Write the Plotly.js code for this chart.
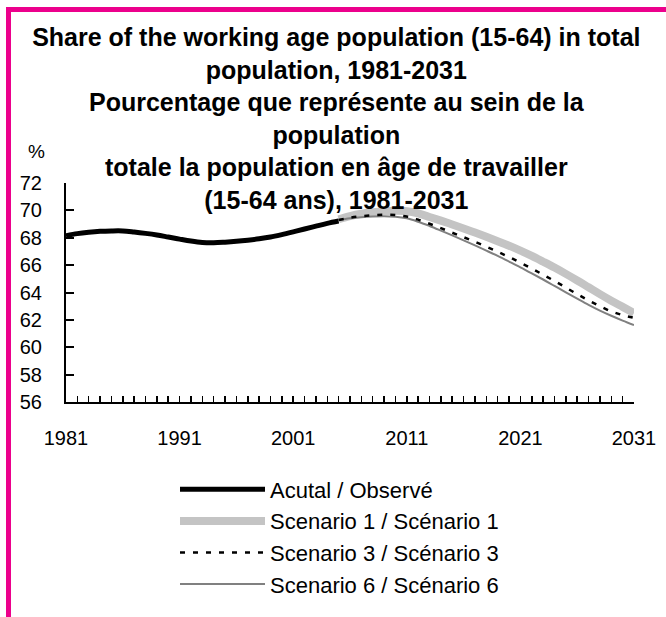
<!DOCTYPE html>
<html>
<head>
<meta charset="utf-8">
<script src="https://cdn.plot.ly/plotly-3.0.1.min.js"></script>
<style>html,body{margin:0;padding:0;background:#fff;}#chart{width:666px;height:617px;}</style>
</head>
<body>
<div id="chart"></div>
<script>
const actualYears = [1981,1982,1983,1984,1985,1986,1987,1988,1989,1990,1991,1992,1993,1994,1995,1996,1997,1998,1999,2000,2001,2002,2003,2004,2005];
const actualValues = [68.15,68.3,68.4,68.47,68.5,68.5,68.42,68.32,68.2,68.05,67.9,67.76,67.66,67.64,67.68,67.74,67.82,67.92,68.05,68.23,68.43,68.64,68.85,69.05,69.22];
const scenarioYears = [2005,2006,2007,2008,2009,2010,2011,2012,2013,2014,2015,2016,2017,2018,2019,2020,2021,2022,2023,2024,2025,2026,2027,2028,2029,2030,2031];
const scenario1 = [69.35,69.58,69.75,69.86,69.94,69.97,69.94,69.78,69.52,69.25,68.97,68.68,68.38,68.07,67.75,67.42,67.06,66.67,66.25,65.82,65.36,64.88,64.38,63.88,63.4,62.95,62.5];
const scenario3 = [69.3,69.46,69.57,69.64,69.68,69.66,69.55,69.32,69.02,68.7,68.37,68.04,67.7,67.35,66.98,66.59,66.18,65.75,65.3,64.84,64.36,63.88,63.42,63.0,62.62,62.35,62.15];
const scenario6 = [69.3,69.42,69.5,69.55,69.57,69.54,69.42,69.17,68.86,68.52,68.17,67.81,67.44,67.06,66.67,66.26,65.84,65.4,64.95,64.48,64.01,63.55,63.1,62.68,62.3,61.95,61.62];
const seriesNames = ["Acutal / Observé","Scenario 1 / Scénario 1","Scenario 3 / Scénario 3","Scenario 6 / Scénario 6"];
const xTickVals = [1981,1991,2001,2011,2021,2031];
const yTickVals = [56,58,60,62,64,66,68,70,72];

const W = 666, H = 617;
const M = {l:66, r:32, t:183, b:210};
const pw = W - M.l - M.r, ph = H - M.t - M.b;
const px = v => (v - M.l) / pw;
const py = v => (H - M.b - v) / ph;

const traces = [
  {x: scenarioYears, y: scenario1, name: seriesNames[1], legendrank: 2, legendgroup: 'b',
   mode: 'lines', line: {color: '#c4c4c4', width: 8, shape: 'spline'}},
  {x: scenarioYears, y: scenario6, name: seriesNames[3], legendrank: 4, legendgroup: 'd',
   mode: 'lines', line: {color: '#808080', width: 2, shape: 'spline'}},
  {x: scenarioYears, y: scenario3, name: seriesNames[2], legendrank: 3, legendgroup: 'c',
   mode: 'lines', line: {color: '#000000', width: 2.5, dash: '5px,8px', shape: 'spline'}},
  {x: actualYears, y: actualValues, name: seriesNames[0], legendrank: 1, legendgroup: 'a',
   yaxis: 'y2',
   mode: 'lines', line: {color: '#000000', width: 5, shape: 'spline'}}
];

const font = 'Liberation Sans, Arial, Helvetica, sans-serif';

const layout = {
  width: W, height: H,
  margin: M,
  paper_bgcolor: '#ffffff', plot_bgcolor: '#ffffff',
  font: {family: font, color: '#000', size: 20},
  title: {
    text: 'Share of the working age population (15-64) in total<br>population, 1981-2031<br>Pourcentage que représente au sein de la<br>population<br>totale la population en âge de travailler<br>(15-64 ans), 1981-2031',
    font: {family: font, size: 25, color: '#000', weight: 'bold'},
    x: 0.505, xref: 'container', xanchor: 'center',
    y: 1 - 46 / H, yref: 'container', yanchor: 'top'
  },
  xaxis: {
    range: [1981, 2031], tickvals: xTickVals, ticktext: xTickVals.map(String),
    showgrid: false, zeroline: false,
    showline: true, linecolor: '#000', linewidth: 2,
    ticks: 'inside', ticklen: 6, tickwidth: 1.5, tickcolor: '#000',
    minor: {dtick: 1, tick0: 1981, ticks: 'inside', ticklen: 6, tickwidth: 1.5, tickcolor: '#000', showgrid: false},
    tickfont: {size: 20}, ticklabelstandoff: 17
  },
  yaxis: {
    range: [56, 72], tickvals: yTickVals, ticktext: yTickVals.map(String),
    showgrid: false, zeroline: false,
    showline: true, linecolor: '#000', linewidth: 2,
    ticks: 'outside', ticklen: 18, tickwidth: 1, tickcolor: 'rgba(0,0,0,0)',
    tickfont: {size: 20}
  },
  yaxis2: {
    overlaying: 'y', side: 'left', anchor: 'x',
    range: [56, 72], tickvals: yTickVals, showticklabels: false,
    showgrid: false, zeroline: false,
    showline: true, linecolor: '#000', linewidth: 2,
    ticks: 'inside', ticklen: 8, tickwidth: 2, tickcolor: '#000'
  },
  showlegend: true,
  legend: {
    x: px(175), xanchor: 'left', y: py(475), yanchor: 'top',
    font: {size: 22, family: font}, itemwidth: 85,
    tracegroupgap: 3, bgcolor: 'rgba(0,0,0,0)', traceorder: 'normal'
  },
  annotations: [
    {text: '%', xref: 'paper', yref: 'paper', x: px(36), y: py(151), showarrow: false,
     xanchor: 'center', yanchor: 'middle', font: {size: 19, family: font}}
  ],
  shapes: [
    {type: 'rect', xref: 'paper', yref: 'paper', x0: px(8.5), x1: px(700), y0: py(5.5), y1: py(700),
     line: {color: '#ec008c', width: 5}, fillcolor: 'rgba(0,0,0,0)', layer: 'below'}
  ]
};

Plotly.newPlot('chart', traces, layout, {displayModeBar: false, staticPlot: true});
</script>
</body>
</html>
